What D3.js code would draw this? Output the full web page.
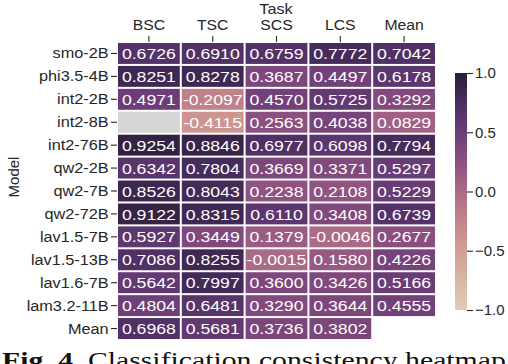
<!DOCTYPE html>
<html><head><meta charset="utf-8">
<script src="https://cdn.jsdelivr.net/npm/d3@7"></script>
<style>
html,body{margin:0;padding:0;background:#fff;}
svg text{font-family:"Liberation Sans",Arial,sans-serif;}
</style></head>
<body><svg id="c" width="508" height="364"></svg>
<script>
const models = ["smo-2B","phi3.5-4B","int2-2B","int2-8B","int2-76B","qw2-2B","qw2-7B","qw2-72B","lav1.5-7B","lav1.5-13B","lav1.6-7B","lam3.2-11B","Mean"];
const tasks = ["BSC","TSC","SCS","LCS","Mean"];
const BSC  = [0.6726,0.8251,0.4971,null,0.9254,0.6342,0.8526,0.9122,0.5927,0.7086,0.5642,0.4804,0.6968];
const TSC  = [0.6910,0.8278,-0.2097,-0.4115,0.8846,0.7804,0.8043,0.8315,0.3449,0.8255,0.7997,0.6481,0.5681];
const SCS  = [0.6759,0.3687,0.4570,0.2563,0.6977,0.3669,0.2238,0.6110,0.1379,-0.0015,0.3600,0.3290,0.3736];
const LCS  = [0.7772,0.4497,0.5725,0.4038,0.6098,0.3371,0.2108,0.3408,-0.0046,0.1580,0.3426,0.3644,0.3802];
const MEAN = [0.7042,0.6178,0.3292,0.0829,0.7794,0.5297,0.5229,0.6739,0.2677,0.4226,0.5166,0.4555,null];
const colorTicks = [1.0,0.5,0.0,-0.5,-1.0];
const colorTickLabels = ["1.0","0.5","0.0","\u22120.5","\u22121.0"];
const series = [BSC,TSC,SCS,LCS,MEAN];

const cells = [];
tasks.forEach((t,j)=>models.forEach((m,i)=>cells.push({task:t,model:m,v:series[j][i],nan:(series[j][i]===null && !(m==="Mean"&&t==="Mean"))})));

const color = d3.scaleLinear()
  .domain([-1,-0.5,-0.2,0,0.25,0.5,0.75,1])
  .range(["#dfcdb4","#d29e95","#c0808a","#ab6a88","#8c4f80","#6c3e79","#4a2d62","#2b1e38"])
  .interpolate(d3.interpolateLab).clamp(true);

const svg = d3.select("#c");
const x = d3.scaleBand().domain(tasks).range([117,436]);
const y = d3.scaleBand().domain(models).range([42,340]);
const tc = "#262626";

// cells
svg.append("g").selectAll("rect").data(cells.filter(d=>d.v!==null||d.nan)).join("rect")
  .attr("x",d=>x(d.task)+1).attr("y",d=>y(d.model)+1)
  .attr("width",x.bandwidth()-2).attr("height",y.bandwidth()-2)
  .attr("fill",d=>d.nan?"#d6d6d6":color(d.v));
svg.append("g").selectAll("text").data(cells.filter(d=>d.v!==null)).join("text")
  .attr("transform",d=>`translate(${x(d.task)+x.bandwidth()/2},${y(d.model)+y.bandwidth()/2}) scale(1.14,1)`)
  .attr("dy","0.36em").attr("text-anchor","middle").attr("fill","#fff")
  .style("font-size","15.5px").text(d=>d.v.toFixed(4));

// axes
const ax = svg.append("g").attr("transform","translate(0,42)")
  .call(d3.axisTop(x).tickSize(6).tickPadding(6));
ax.select(".domain").remove();
ax.selectAll("text").style("font-size","15px").attr("fill",tc).attr("transform","scale(1.05,1)");
ax.selectAll("line").attr("stroke",tc).attr("stroke-width",1.1);
const ay = svg.append("g").attr("transform","translate(117,0)")
  .call(d3.axisLeft(y).tickSize(6).tickPadding(2));
ay.select(".domain").remove();
ay.selectAll("text").style("font-size","15.5px").attr("fill",tc).attr("transform","scale(1.05,1)");
ay.selectAll("line").attr("stroke",tc).attr("stroke-width",1.1);

svg.append("text").attr("transform","translate(276,14) scale(1.08,1)").attr("text-anchor","middle")
  .attr("fill",tc).style("font-size","15px").text("Task");
svg.append("text").attr("transform","translate(19,177) rotate(-90)").attr("text-anchor","middle")
  .attr("fill",tc).style("font-size","15px").text("Model");

// colorbar
const cy = d3.scaleLinear().domain([-1,1]).range([310,73]);
const defs = svg.append("defs");
const grad = defs.append("linearGradient").attr("id","cg").attr("x1",0).attr("y1",1).attr("x2",0).attr("y2",0);
d3.range(0,1.0001,0.05).forEach(t=>grad.append("stop").attr("offset",t).attr("stop-color",color(-1+2*t)));
svg.append("rect").attr("x",455).attr("y",cy(1)).attr("width",12).attr("height",cy(-1)-cy(1)).attr("fill","url(#cg)");
const cax = svg.append("g").attr("transform","translate(467,0)")
  .call(d3.axisRight(cy).tickValues(colorTicks).tickFormat((d,i)=>colorTickLabels[i]).tickSize(6).tickPadding(2));
cax.select(".domain").remove();
cax.selectAll("text").style("font-size","15px").attr("fill",tc);
cax.selectAll("line").attr("stroke",tc).attr("stroke-width",1.1);

// caption
const cap = svg.append("text").attr("transform","translate(2,368) scale(1.24,1)")
  .style("font-family","'Liberation Serif',serif").style("font-size","24px").attr("fill","#111");
cap.append("tspan").attr("font-weight","bold").text("Fig. 4.");
cap.append("tspan").text(" Classification consistency heatmap");
</script></body></html>
